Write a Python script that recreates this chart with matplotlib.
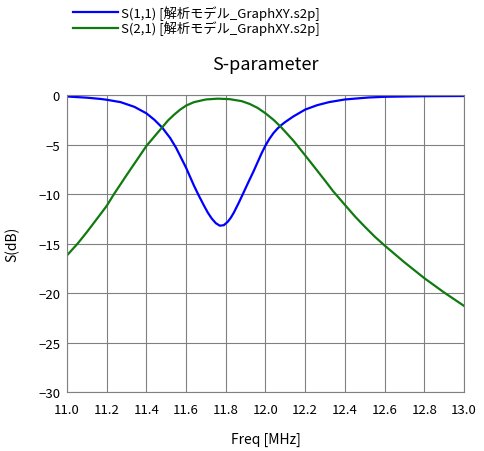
import matplotlib
matplotlib.use("Agg")
import matplotlib.pyplot as plt

plt.rcParams['font.family'] = ['Noto Sans CJK JP', 'DejaVu Sans']
plt.rcParams['axes.unicode_minus'] = True

# S(1,1)
f11 = [11.0, 11.1, 11.17, 11.2, 11.27, 11.34, 11.4, 11.44, 11.48, 11.52,
       11.55, 11.58, 11.6, 11.64, 11.665, 11.69, 11.71, 11.73, 11.75, 11.77,
       11.79, 11.81, 11.825, 11.84, 11.865, 11.89, 11.915, 11.94, 11.96, 11.98,
       12.0, 12.02, 12.04, 12.06, 12.08, 12.1, 12.14, 12.2, 12.26, 12.32,
       12.4, 12.52, 12.6, 12.8, 13.0]
s11 = [-0.15, -0.27, -0.4, -0.48, -0.72, -1.2, -1.85, -2.5, -3.3, -4.35,
       -5.35, -6.55, -7.35, -9.17, -10.2, -11.17, -11.9, -12.5, -12.95, -13.2,
       -13.15, -12.8, -12.4, -11.9, -10.9, -9.83, -8.75, -7.7, -6.8, -5.9,
       -5.1, -4.42, -3.85, -3.4, -3.03, -2.72, -2.17, -1.47, -1.03, -0.72,
       -0.45, -0.25, -0.18, -0.12, -0.1]

# S(2,1)
f21 = [11.0, 11.054, 11.1, 11.17, 11.2, 11.237, 11.3, 11.4, 11.48, 11.51,
       11.54, 11.57, 11.6, 11.64, 11.7, 11.76, 11.82, 11.88, 11.92, 11.96,
       12.0, 12.04, 12.075, 12.14, 12.2, 12.255, 12.3, 12.34, 12.4, 12.45,
       12.5, 12.55, 12.6, 12.7, 12.8, 12.9, 13.0]
s21 = [-16.2, -15.0, -13.85, -12.0, -11.2, -10.0, -8.1, -5.15, -3.25, -2.55,
       -1.98, -1.48, -1.07, -0.72, -0.45, -0.37, -0.42, -0.62, -0.9, -1.3,
       -1.85, -2.5, -3.17, -4.6, -6.1, -7.5, -8.65, -9.7, -11.1, -12.25,
       -13.3, -14.3, -15.2, -16.9, -18.5, -19.95, -21.3]

labels = ["S(1,1) [解析モデル_GraphXY.s2p]", "S(2,1) [解析モデル_GraphXY.s2p]"]
xticks = [11.0, 11.2, 11.4, 11.6, 11.8, 12.0, 12.2, 12.4, 12.6, 12.8, 13.0]
yticks = [-30, -25, -20, -15, -10, -5, 0]

fig = plt.figure(figsize=(4.84, 4.52), dpi=100)
ax = fig.add_axes([0.1384, 0.1305, 0.8203, 0.6571])

l1, = ax.plot(f11, s11, color="#0000ff", lw=1.6)
l2, = ax.plot(f21, s21, color="#107a10", lw=1.6)

ax.set_xlim(11.0, 13.0)
ax.set_ylim(-30, 0)
ax.set_xticks(xticks)
ax.set_xticklabels([f"{t:.1f}" for t in xticks])
ax.set_yticks(yticks)
ax.grid(True, color="#808080", lw=0.8)
for s in ax.spines.values():
    s.set_color("#808080")
    s.set_linewidth(0.8)
ax.tick_params(length=0, labelsize=9.5)
ax.tick_params(axis="x", pad=8)
ax.tick_params(axis="y", pad=5)

ax.set_title("S-parameter", fontsize=13, pad=19)
ax.set_xlabel("Freq [MHz]", fontsize=10, labelpad=11)
ax.set_ylabel("S(dB)", fontsize=10, labelpad=13)

fig.legend([l1, l2], labels, loc="upper left", bbox_to_anchor=(0.135, 1.004),
           frameon=False, fontsize=9.5, handlelength=3.4, handletextpad=0.25,
           labelspacing=0.05, borderaxespad=0.2)

fig.savefig("out.png", dpi=100)
plt.close(fig)
